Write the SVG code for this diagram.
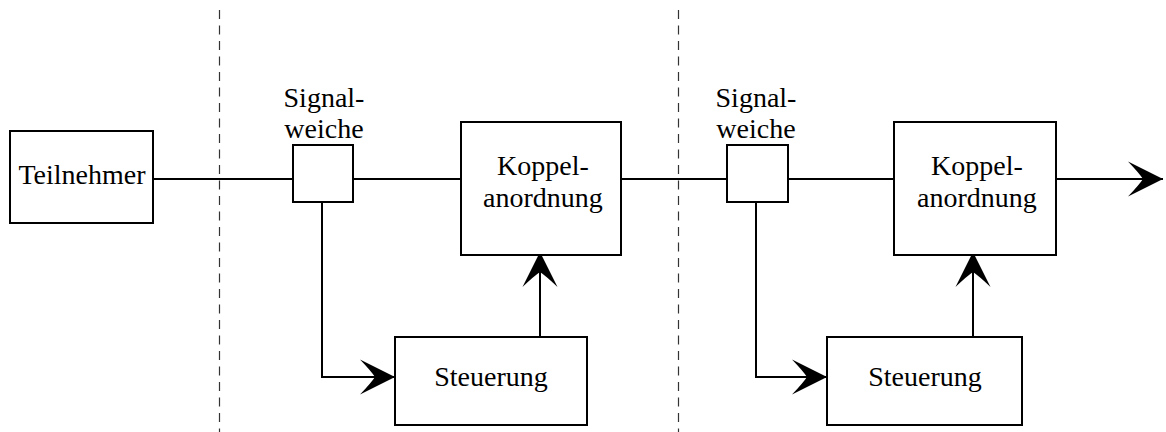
<svg xmlns="http://www.w3.org/2000/svg" width="1166" height="432" viewBox="0 0 1166 432">
<style>
.box{fill:#fff;stroke:#000;stroke-width:2}
.ln{fill:none;stroke:#000;stroke-width:2}
.dash{fill:none;stroke:#333;stroke-width:1.2;stroke-dasharray:9 6.5}
.lbl{font-family:"Liberation Serif","Times New Roman",serif;font-size:28px;fill:#000;text-anchor:middle}
.arr{marker-end:url(#ah)}
</style>
<defs>
<marker id="ah" viewBox="-38 -20 40 40" refX="0" refY="0" markerWidth="40" markerHeight="40" markerUnits="userSpaceOnUse" orient="auto">
<path d="M0,0 L-35,-17.5 Q-24,-6 -20,0 Q-24,6 -35,17.5 Z" fill="#000"/>
</marker>
</defs>
<g id="separators">
<line class="dash" x1="219.5" y1="10" x2="219.5" y2="432"/>
<line class="dash" x1="678.5" y1="10" x2="678.5" y2="432"/>
</g>
<g id="connectors">
<line class="ln" x1="153" y1="179" x2="293" y2="179"/>
<line class="ln" x1="353" y1="179" x2="461" y2="179"/>
<line class="ln" x1="621" y1="179" x2="727" y2="179"/>
<line class="ln" x1="788" y1="179" x2="894" y2="179"/>
<line class="ln arr" x1="1056" y1="179" x2="1163" y2="179"/>
<polyline class="ln arr" points="322,202 322,377 395,377"/>
<line class="ln arr" x1="540" y1="337" x2="540" y2="252"/>
<polyline class="ln arr" points="756,202 756,377 827,377"/>
<line class="ln arr" x1="973" y1="337" x2="973" y2="252"/>
</g>
<g id="teilnehmer">
<rect class="box" x="10" y="131" width="143" height="92"/>
<text class="lbl" x="82" y="184">Teilnehmer</text>
</g>
<g id="signalweiche1">
<rect class="box" x="293" y="145" width="60" height="57"/>
<text class="lbl" x="324" y="107">Signal-</text>
<text class="lbl" x="324" y="138">weiche</text>
</g>
<g id="koppel1">
<rect class="box" x="461" y="122" width="160" height="133"/>
<text class="lbl" x="543" y="175">Koppel-</text>
<text class="lbl" x="543" y="207">anordnung</text>
</g>
<g id="steuerung1">
<rect class="box" x="395" y="337" width="192" height="88"/>
<text class="lbl" x="491" y="386">Steuerung</text>
</g>
<g id="signalweiche2">
<rect class="box" x="727" y="145" width="61" height="57"/>
<text class="lbl" x="756" y="107">Signal-</text>
<text class="lbl" x="756" y="138">weiche</text>
</g>
<g id="koppel2">
<rect class="box" x="894" y="122" width="162" height="133"/>
<text class="lbl" x="977" y="175">Koppel-</text>
<text class="lbl" x="977" y="207">anordnung</text>
</g>
<g id="steuerung2">
<rect class="box" x="827" y="337" width="195" height="88"/>
<text class="lbl" x="925" y="386">Steuerung</text>
</g>
</svg>
